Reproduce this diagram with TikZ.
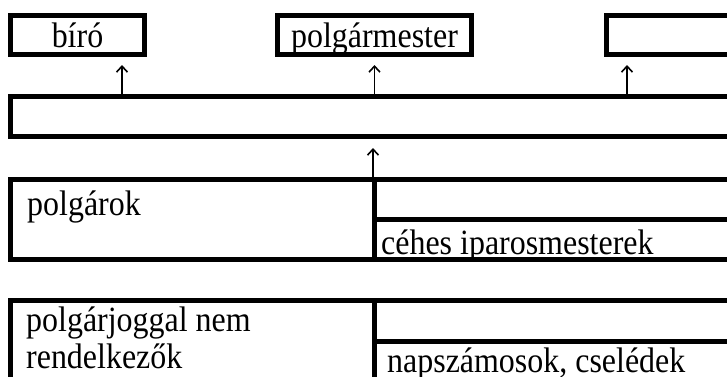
\documentclass[tikz,border=0pt]{standalone}
\usepackage{fontspec}
\setmainfont{Liberation Serif}[FakeStretch=0.9]
\usetikzlibrary{positioning, arrows.meta}

\begin{document}
\begin{tikzpicture}[
    x=1pt, y=1pt,
    cell/.style={rectangle, draw, line width=5pt, inner sep=0pt},
    topbox/.style={cell, minimum height=39pt, text height=24pt, text depth=0pt,
                   font=\fontsize{35.5}{37}\selectfont},
    txt/.style={inner sep=0pt, font=\fontsize{35.5}{37}\selectfont},
    arr/.style={-{Straight Barb[length=6pt, width=11pt]}, line width=1.6pt},
]
\useasboundingbox (0,0) rectangle (727,376);
\clip (0,0) rectangle (727,376);

% Top row
\node[topbox, anchor=north west, minimum width=134pt] (biro) at (8,363) {bíró};
\node[topbox, right=128pt of biro, minimum width=194pt] (pm) {polgármester};
\node[topbox, right=130pt of pm, minimum width=200pt] (third) {};

% Council
\node[cell, below=37pt of biro.south west, anchor=north west,
      minimum width=762pt, minimum height=40pt] (tanacs) {};

% Citizens
\node[cell, below=38pt of tanacs.south west, anchor=north west,
      minimum width=364pt, minimum height=80pt] (polg) {};
\node[cell, right=-5pt of polg.north east, anchor=north west,
      minimum width=398pt, minimum height=40pt] (polgA) {};
\node[cell, below=-5pt of polgA.south west, anchor=north west,
      minimum width=398pt, minimum height=40pt] (ceh) {};

% Non-citizens
\node[cell, below=36pt of polg.south west, anchor=north west,
      minimum width=364pt, minimum height=80pt] (nempolg) {};
\node[cell, right=-5pt of nempolg.north east, anchor=north west,
      minimum width=398pt, minimum height=41pt] (nempolgA) {};
\node[cell, below=-5pt of nempolgA.south west, anchor=north west,
      minimum width=398pt, minimum height=39pt] (napsz) {};

% Texts
\node[txt, anchor=base west] (tpolg) at ([shift={(19pt,-38pt)}]polg.north west) {polgárok};
\node[txt, anchor=base west] (tceh) at ([shift={(9pt,-37pt)}]ceh.north west) {céhes iparosmesterek};
\node[txt, anchor=base west, align=left] (tnempolg) at ([shift={(18pt,-70pt)}]nempolg.north west)
    {polgárjoggal nem\\rendelkezők};
\node[txt, anchor=base west] (tnapsz) at ([shift={(15pt,-33pt)}]napsz.north west) {napszámosok, cselédek};

% Arrows
\draw[arr, shorten >=8pt] ([xshift=114pt]tanacs.north west) -- ([xshift=-25pt]biro.south east);
\draw[arr, shorten >=8pt] (pm.south |- tanacs.north) -- (pm.south);
\draw[arr, shorten >=8pt] ([xshift=619pt]tanacs.north west) -- ([xshift=23pt]third.south west);
\draw[arr, shorten >=9pt] ([xshift=-4pt]polg.north east) -- ([xshift=365pt]tanacs.south west);

\end{tikzpicture}
\end{document}
